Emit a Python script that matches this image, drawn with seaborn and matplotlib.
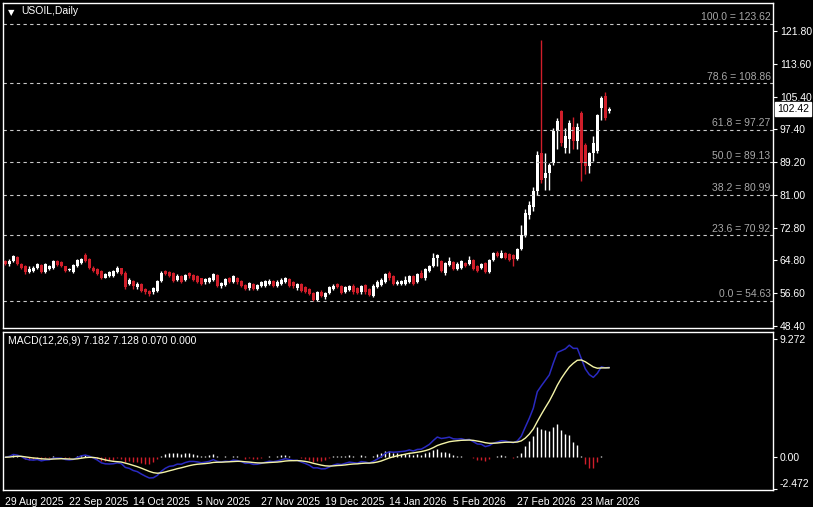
import numpy as np
import pandas as pd
import seaborn as sns
from matplotlib import pyplot as plt

sns.set_style('dark', {'axes.facecolor': 'black', 'figure.facecolor': 'black'})
plt.rcParams['font.family'] = ['Liberation Sans', 'DejaVu Sans']

# daily candles USOIL
opens = [64.56, 63.74, 64.6, 65.6, 63.7, 63.3, 61.8, 62.1, 62.9, 63.5,
         61.9, 62.5, 62.9, 64.6, 64.3, 63.2, 62.2, 61.8, 63.3, 64.15,
         65.97, 65.1, 62.9, 62.5, 62.1, 60.4, 60.8, 60.8, 61.8, 62.7,
         61.67, 58.8, 59.6, 57.95, 58.8, 57.5, 57.1, 56.7, 57.1, 59.6,
         62.1, 61.8, 61.5, 59.85, 60.7, 59.85, 61.5, 61.0, 60.7, 60.2,
         59.2, 59.35, 59.85, 61.0, 58.2, 58.5, 60.2, 59.2, 60.2, 59.6,
         58.5, 57.7, 58.8, 57.5, 58.4, 58.4, 58.8, 59.6, 58.36, 58.8,
         59.2, 60.0, 59.2, 57.7, 58.8, 57.95, 57.5, 56.5, 54.9, 56.9,
         55.5, 56.5, 57.5, 58.8, 58.36, 56.7, 57.4, 58.36, 57.7, 56.7,
         58.5, 57.5, 55.9, 58.0, 58.5, 59.35, 61.67, 60.84, 58.8, 58.8,
         58.8, 59.2, 60.7, 59.35, 61.67, 60.2, 62.1, 63.32, 65.4, 64.56,
         61.67, 63.5, 64.3, 62.5, 62.9, 64.15, 63.74, 64.8, 63.32, 62.9,
         63.98, 61.84, 64.8, 66.63, 65.4, 66.46, 66.2, 65.97, 64.98, 67.5,
         71.0, 76.0, 78.0, 82.0, 91.4, 85.3, 86.5, 89.0, 96.8, 101.8,
         92.7, 94.8, 98.0, 94.3, 101.4, 93.5, 88.1, 91.3, 91.9, 102.6,
         105.5, 101.8]
highs = [64.9, 65.0, 66.05, 65.9, 64.0, 63.5, 63.3, 63.3, 64.1, 63.8,
         64.15, 63.6, 64.9, 64.9, 64.6, 63.4, 62.9, 63.8, 65.1, 65.4,
         66.6, 65.4, 63.2, 62.8, 62.4, 61.5, 62.1, 62.3, 63.2, 62.9,
         62.0, 60.2, 59.9, 59.35, 59.1, 57.8, 57.3, 58.0, 59.9, 62.1,
         62.4, 62.0, 61.8, 61.2, 61.0, 61.3, 61.8, 61.3, 61.0, 60.4,
         60.3, 60.5, 61.6, 61.3, 59.3, 60.3, 60.5, 61.0, 60.5, 59.9,
         58.8, 59.3, 59.1, 58.8, 59.5, 59.9, 60.0, 59.9, 59.7, 60.2,
         60.6, 60.3, 59.5, 59.1, 59.1, 58.2, 57.8, 56.8, 57.1, 57.2,
         56.8, 58.2, 58.7, 59.1, 58.6, 58.2, 58.5, 58.7, 58.0, 58.6,
         58.8, 57.8, 58.7, 59.9, 60.2, 61.5, 62.1, 61.1, 59.9, 59.9,
         60.8, 61.0, 61.0, 61.5, 62.3, 62.8, 63.6, 66.5, 66.2, 64.9,
         64.3, 65.6, 64.6, 64.3, 64.9, 64.4, 65.7, 65.1, 63.6, 64.0,
         64.3, 65.1, 66.8, 67.0, 67.2, 66.8, 66.5, 66.3, 67.8, 73.5,
         77.5, 79.5, 83.0, 92.0, 119.6, 91.4, 89.0, 97.6, 100.1, 102.2,
         97.6, 99.7, 100.5, 98.9, 101.8, 93.9, 91.6, 95.6, 101.2, 105.5,
         106.7, 102.9]
lows = [63.5, 63.4, 64.4, 63.5, 62.6, 61.4, 61.5, 61.8, 62.6, 61.6,
        61.5, 62.2, 62.6, 63.3, 63.0, 61.9, 62.0, 61.5, 63.1, 63.9,
        64.3, 62.6, 61.8, 61.0, 60.0, 60.2, 60.6, 60.6, 61.6, 61.0,
        57.6, 58.6, 57.5, 57.5, 56.9, 56.4, 55.7, 56.4, 56.9, 59.4,
        61.0, 60.6, 59.4, 59.6, 59.1, 59.6, 60.4, 59.6, 59.1, 58.5,
        58.9, 59.1, 59.6, 58.0, 57.9, 58.3, 59.0, 59.0, 58.9, 58.1,
        57.2, 57.4, 57.2, 57.3, 58.1, 58.1, 58.6, 58.1, 58.1, 58.6,
        59.0, 58.1, 57.9, 57.4, 56.9, 56.6, 56.0, 54.6, 54.7, 55.5,
        55.2, 56.3, 57.2, 57.7, 56.3, 56.5, 57.1, 56.4, 56.3, 56.4,
        56.4, 55.8, 55.6, 57.8, 58.3, 59.1, 59.9, 58.5, 58.5, 58.6,
        58.6, 59.0, 58.6, 59.1, 60.2, 59.9, 61.9, 63.1, 63.3, 61.9,
        61.0, 63.3, 62.3, 62.2, 62.6, 63.1, 63.5, 62.3, 61.9, 62.6,
        61.6, 61.6, 64.6, 65.5, 65.2, 65.1, 64.6, 63.3, 64.7, 67.2,
        70.5, 75.0, 77.0, 81.0, 84.0, 82.3, 82.3, 88.5, 92.3, 93.1,
        91.4, 91.4, 92.3, 92.3, 84.4, 86.1, 86.5, 89.4, 91.5, 99.7,
        99.7, 101.5]
closes = [63.74, 64.56, 65.8, 63.7, 62.9, 61.7, 62.5, 62.9, 63.7, 61.9,
          63.7, 63.3, 64.6, 63.5, 63.3, 62.1, 62.6, 63.5, 64.8, 65.1,
          64.56, 62.9, 62.1, 61.25, 60.2, 61.25, 61.8, 62.1, 62.7, 61.25,
          57.95, 59.85, 58.36, 58.8, 57.1, 56.7, 56.3, 57.7, 59.6, 61.67,
          61.25, 60.8, 59.6, 60.84, 59.35, 61.0, 60.7, 59.85, 59.35, 58.8,
          60.0, 60.2, 61.25, 58.2, 59.0, 60.0, 59.2, 60.7, 59.2, 58.36,
          57.5, 59.0, 57.5, 58.5, 59.2, 59.6, 59.6, 58.36, 59.35, 59.85,
          60.2, 58.36, 58.2, 58.8, 57.1, 56.9, 56.3, 54.9, 56.9, 55.7,
          56.5, 57.95, 58.36, 57.95, 56.5, 57.95, 58.2, 56.7, 56.5, 58.36,
          56.7, 56.05, 58.36, 59.2, 59.85, 61.25, 60.2, 58.8, 59.35, 59.6,
          59.85, 60.7, 58.8, 61.25, 60.4, 62.5, 63.32, 65.4, 65.97, 62.1,
          63.98, 64.56, 62.5, 63.74, 64.56, 63.32, 64.8, 62.5, 62.1, 63.74,
          61.84, 64.8, 66.46, 65.8, 66.46, 65.4, 64.8, 64.98, 67.46, 71.0,
          76.5, 78.5, 82.0, 91.0, 84.8, 86.5, 88.5, 96.8, 99.3, 93.9,
          95.6, 99.0, 94.3, 98.0, 89.0, 88.1, 91.3, 93.9, 100.9, 105.1,
          100.1, 102.42]

holidays = ['2025-12-25', '2026-01-01']
date_labels = ['29 Aug 2025', '22 Sep 2025', '14 Oct 2025', '5 Nov 2025', '27 Nov 2025',
               '19 Dec 2025', '14 Jan 2026', '5 Feb 2026', '27 Feb 2026', '23 Mar 2026']

fib_levels = [100.0, 78.6, 61.8, 50.0, 38.2, 23.6, 0.0]
fib_prices = [123.62, 108.86, 97.27, 89.13, 80.99, 70.92, 54.63]
price_ticks = [121.80, 113.60, 105.40, 97.40, 89.20, 81.00, 72.80, 64.80, 56.60, 48.40]
macd_ticks = [9.272, 0.0, -2.472]
macd_title = 'MACD(12,26,9) 7.182 7.128 0.070 0.000'

dates = pd.bdate_range('2025-08-29', periods=len(closes), freq='C', holidays=holidays)
df = pd.DataFrame({'date': dates, 'open': opens, 'high': highs, 'low': lows, 'close': closes})
df['i'] = np.arange(len(df))

# MACD 12/26/9
ema_fast = df['close'].ewm(span=12, adjust=False).mean()
ema_slow = df['close'].ewm(span=26, adjust=False).mean()
df['macd'] = ema_fast - ema_slow
df['signal'] = df['macd'].ewm(span=9, adjust=False).mean()
df['hist'] = df['macd'] - df['signal']

up_col = 'white'
down_col = '#d01e2a'
fg = 'white'
fs = 7.5

fig = plt.figure(figsize=(8.13, 5.07), dpi=100, facecolor='black')
ax = fig.add_axes([0.0037, 0.353, 0.947, 0.641])
ax2 = fig.add_axes([0.0037, 0.0335, 0.947, 0.311], sharex=ax)

# candles
up = df['close'] >= df['open']
cols = np.where(up, up_col, down_col)
ax.vlines(df['i'], df['low'], df['high'], colors=cols, lw=1.0)
body_lo = np.minimum(df['open'], df['close'])
body_h = np.maximum((df['close'] - df['open']).abs(), 0.15)
ax.bar(df['i'], body_h, bottom=body_lo, width=0.6, color=cols, linewidth=0)

# fibonacci levels
for lvl, p in zip(fib_levels, fib_prices):
    ax.axhline(p, color='#c8c8c8', lw=0.8, ls=(0, (3, 3)))
    ax.text(0.997, p + 0.35, f'{lvl:.1f} = {p:.2f}', transform=ax.get_yaxis_transform(),
            ha='right', va='bottom', color='#a8a8a8', fontsize=fs)

ax.set_ylim(47.85, 128.75)
ax.set_xlim(-0.575, 191.9)
ax.yaxis.tick_right()
ax.set_yticks(price_ticks, [f'{t:.2f}' for t in price_ticks])
ax.tick_params(axis='y', colors=fg, labelsize=fs, length=3, width=0.8, pad=2)
ax.tick_params(axis='x', bottom=False, labelbottom=False)

# last price tag
last = closes[-1]
ax.annotate(f'{last:.2f}', xy=(1.0, last), xycoords=('axes fraction', 'data'),
            xytext=(3, 0), textcoords='offset points', ha='left', va='center',
            color='black', fontsize=fs,
            bbox=dict(boxstyle='square,pad=0.2', fc='white', ec='white'))

ax.text(0.006, 0.985, '\u25BC', transform=ax.transAxes, color=fg, fontsize=6, va='top',
        family='DejaVu Sans')
ax.text(0.024, 0.99, 'USOIL,Daily', transform=ax.transAxes, color=fg, fontsize=fs, va='top')

# MACD panel
hist_cols = np.where(df['hist'] >= 0, up_col, down_col)
ax2.vlines(df['i'], 0, df['hist'], colors=hist_cols, lw=1.0)
sns.lineplot(x=df['i'], y=df['macd'], color='#2a2ac0', lw=1.1, ax=ax2)
sns.lineplot(x=df['i'], y=df['signal'], color='#f4f4a8', lw=1.0, ax=ax2)
ax2.set_ylim(-2.57, 9.79)
ax2.yaxis.tick_right()
ax2.set_yticks(macd_ticks, ['9.272', '0.00', '-2.472'])
labs = ax2.get_yticklabels()
labs[2].set_va('bottom')
ax2.tick_params(axis='y', colors=fg, labelsize=fs, length=3, width=0.8, pad=2)
ax2.set_xlabel('')
ax2.set_ylabel('')
ax2.text(0.006, 0.975, macd_title, transform=ax2.transAxes, color=fg, fontsize=fs, va='top')

fmt = [f'{d.day} {d.strftime("%b %Y")}' for d in df['date']]
tick_pos = [fmt.index(lbl) for lbl in date_labels]
ax2.set_xticks(tick_pos, date_labels)
for t in ax2.get_xticklabels():
    t.set_ha('left')
ax2.tick_params(axis='x', colors=fg, labelsize=fs, length=4, width=0.8, pad=1)

for a in (ax, ax2):
    a.grid(False)
    for s in a.spines.values():
        s.set_color(fg)
        s.set_linewidth(1.0)

fig.savefig('out.png', dpi=100, facecolor='black')
